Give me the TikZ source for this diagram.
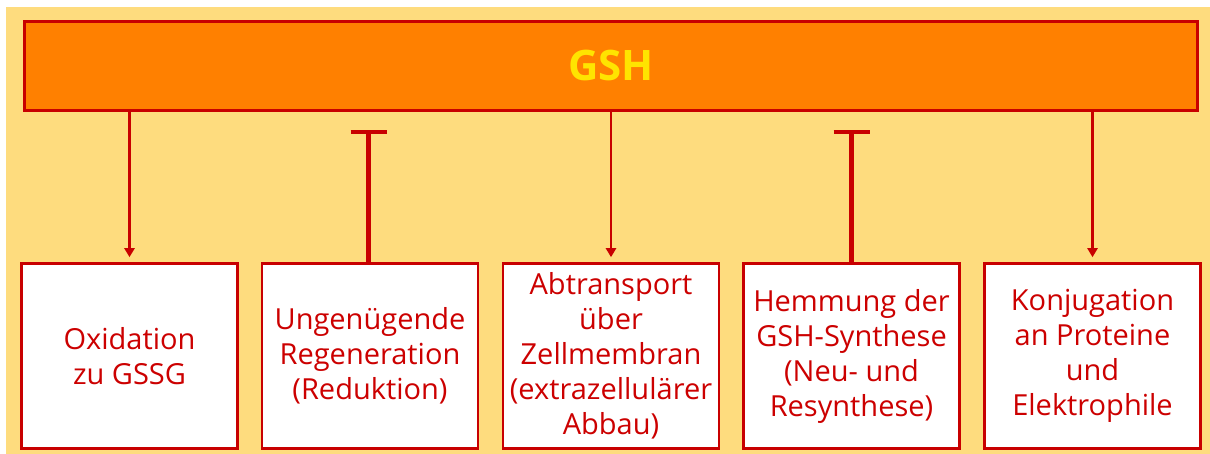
\documentclass[tikz,border=0pt]{standalone}
\usepackage{fontspec}
\setmainfont{Open Sans}
\usetikzlibrary{arrows.meta}
\definecolor{bgyellow}{HTML}{FEDC7E}
\definecolor{gshorange}{HTML}{FF8000}
\definecolor{darkred}{HTML}{C80000}
\definecolor{txtred}{HTML}{CC0000}
\definecolor{gshyellow}{HTML}{FFE400}
\begin{document}
\begin{tikzpicture}[x=1pt,y=-1pt,
  topbox/.style={draw=darkred,line width=2.4pt,fill=gshorange,minimum width=1173pt,minimum height=89pt,inner sep=0pt,
    font=\fontsize{42}{48}\selectfont\bfseries,text=gshyellow},
  effbox/.style={draw=darkred,line width=2.6pt,fill=white,minimum width=216pt,minimum height=185pt,inner sep=0pt,
    align=center,text=txtred,font=\fontsize{29}{35}\selectfont},
  act/.style={draw=darkred,line width=2.8pt,-{Triangle[width=10pt,length=9pt]},shorten >=5pt},
  inh/.style={draw=darkred,line width=4.2pt,-{Bar[width=36pt]}}
]
\fill[bgyellow] (6,7) rectangle (1210,454);
\useasboundingbox (0,0) rectangle (1210,454);
\node[topbox] (gsh) at (611,66) {GSH};
\node[effbox] (b1) at (129.5,356) {Oxidation\\zu GSSG};
\node[effbox] (b2) at (370,356) {Ungenügende\\Regeneration\\(Reduktion)};
\node[effbox] (b3) at (611,356) {Abtransport\\über\\Zellmembran\\(extrazellulärer\\Abbau)};
\node[effbox] (b4) at (851.5,356) {Hemmung der\\GSH-Synthese\\(Neu- und\\Resynthese)};
\node[effbox] (b5) at (1092.5,356) {Konjugation\\an Proteine\\und\\Elektrophile};
\coordinate (t2) at (368.5,130);
\coordinate (t4) at (851.5,130);
\draw[act] (gsh.south -| b1.north) -- (b1.north);
\draw[act] (gsh.south -| b3.north) -- (b3.north);
\draw[act] (gsh.south -| b5.north) -- (b5.north);
\draw[inh] (b2.north -| t2) -- (t2);
\draw[inh] (b4.north) -- (t4);
\end{tikzpicture}
\end{document}
